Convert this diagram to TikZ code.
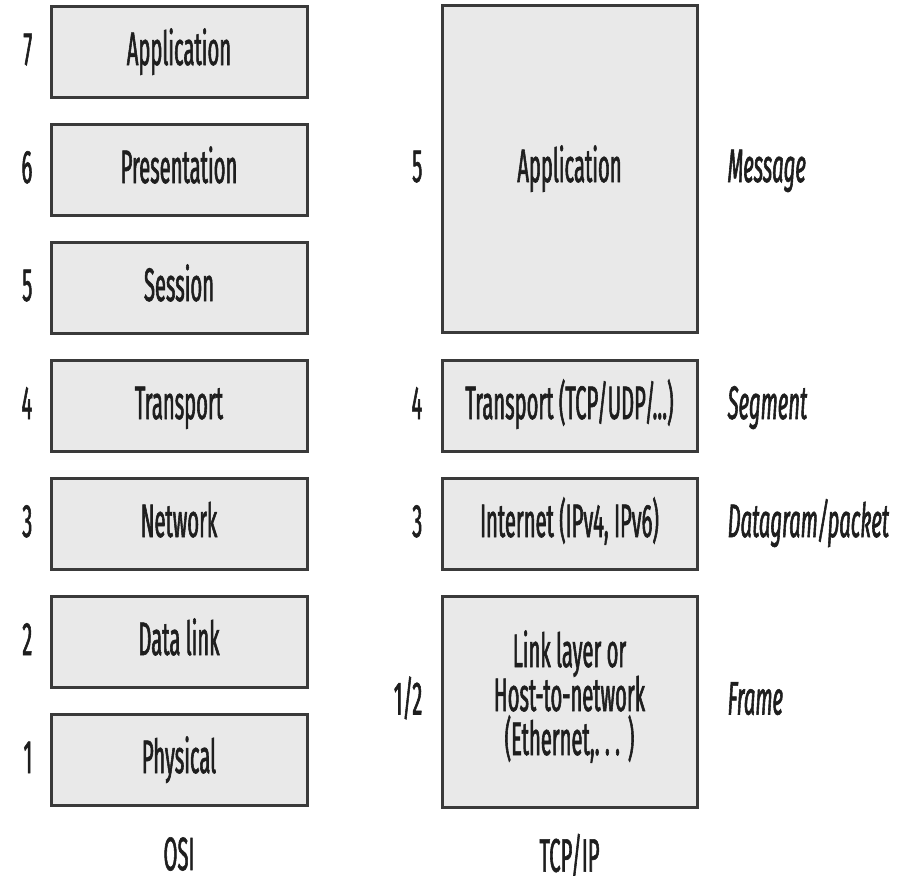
\documentclass[tikz,border=0pt]{standalone}
\usepackage{fontspec}
\setmainfont{Fira Sans}[FakeStretch=0.43, FakeBold=1.2]
\definecolor{boxfill}{HTML}{E9E9E9}
\definecolor{boxline}{HTML}{3A3A3A}
\definecolor{inkc}{HTML}{1E1E1E}
\newcommand{\lblfont}{\fontsize{47}{44}\selectfont\lineskiplimit=-100pt\relax}
\begin{document}
\begin{tikzpicture}[x=1pt,y=-1pt,
  txt/.style={inner sep=0pt, text height=32pt, text depth=6pt, font=\lblfont, text=inkc},
  layer/.style={txt, draw=boxline, fill=boxfill, line width=3pt, align=center},
  osibox/.style={layer, minimum width=256pt, minimum height=91pt},
  tcpbox/.style={layer, minimum width=255pt},
  numlbl/.style={txt, anchor=east, xshift=-17pt},
  unitlbl/.style={txt, anchor=west, xshift=29pt, font=\lblfont\itshape},
  collbl/.style={txt, anchor=north, text depth=0pt}]
\useasboundingbox (0,0) rectangle (912,875);
% OSI column
\node[osibox] (o7) at (179,52) {Application};
\node[osibox] (o6) at (179,170) {Presentation};
\node[osibox] (o5) at (179,288) {Session};
\node[osibox] (o4) at (179,406) {Transport};
\node[osibox] (o3) at (179,524) {Network};
\node[osibox] (o2) at (179,642) {Data link};
\node[osibox] (o1) at (179,760) {Physical};
\node[numlbl] (n7) at (o7.west) {7};
\node[numlbl] (n6) at (o6.west) {6};
\node[numlbl] (n5) at (o5.west) {5};
\node[numlbl] (n4) at (o4.west) {4};
\node[numlbl] (n3) at (o3.west) {3};
\node[numlbl] (n2) at (o2.west) {2};
\node[numlbl] (n1) at (o1.west) {1};
\node[collbl] (osi) at ([yshift=-31pt]o1.south) {OSI};
% TCP/IP column
\node[tcpbox, minimum height=326pt] (t5) at (569.5,169) {Application};
\node[tcpbox, minimum height=91pt] (t4) at (569.5,406) {Transport (TCP/UDP/...)};
\node[tcpbox, minimum height=91pt] (t3) at (569.5,524) {Internet (IPv4, IPv6)};
\node[tcpbox, minimum height=211pt, text height=120pt, text depth=13pt] (t12) at (569.5,701.5) {Link layer or\\Host-to-network\\(Ethernet,.\ .\ .\,)};
\node[numlbl, xshift=-1pt] (m5) at (t5.west) {5};
\node[numlbl, xshift=-1pt] (m4) at (t4.west) {4};
\node[numlbl, xshift=-1pt] (m3) at (t3.west) {3};
\node[numlbl, xshift=-1pt] (m12) at (t12.west) {1/2};
\node[unitlbl] (u5) at (t5.east) {Message};
\node[unitlbl] (u4) at (t4.east) {Segment};
\node[unitlbl] (u3) at (t3.east) {Datagram/packet};
\node[unitlbl] (u12) at (t12.east) {Frame};
\node[collbl] (tcpip) at ([yshift=-31pt]t12.south) {TCP/IP};
\end{tikzpicture}
\end{document}
